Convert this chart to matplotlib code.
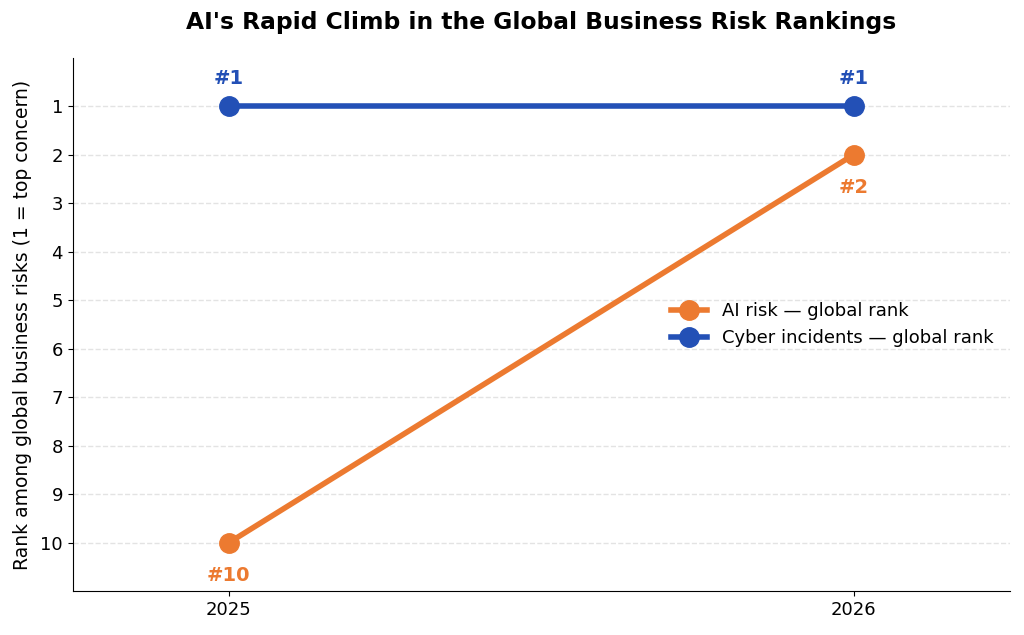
import matplotlib
matplotlib.use("Agg")
import matplotlib.pyplot as plt

# ---------------------------------------------------------------------------
# Data
# ---------------------------------------------------------------------------
years = [2025, 2026]
ai_rank = [10, 2]
cyber_rank = [1, 1]
rank_ticks = list(range(1, 11))

C_AI = "#EC7A30"
C_CYBER = "#2350B6"

fig = plt.figure(figsize=(10.24, 6.35), dpi=100)
ax = fig.add_axes([0.071, 0.069, 0.915, 0.840])

ax.plot(years, ai_rank, color=C_AI, linewidth=4, marker="o",
        markersize=14, label="AI risk — global rank", zorder=3)
ax.plot(years, cyber_rank, color=C_CYBER, linewidth=4, marker="o",
        markersize=14, label="Cyber incidents — global rank", zorder=3)

# Rank labels
for x, r in zip(years, cyber_rank):
    ax.annotate(f"#{r}", (x, r), xytext=(0, 13), textcoords="offset points",
                ha="center", va="bottom", fontsize=14, fontweight="bold",
                color=C_CYBER)
for x, r in zip(years, ai_rank):
    ax.annotate(f"#{r}", (x, r), xytext=(0, -17), textcoords="offset points",
                ha="center", va="top", fontsize=14, fontweight="bold",
                color=C_AI)

ax.set_xlim(2024.75, 2026.25)
ax.set_ylim(11, 0)
ax.set_xticks(years)
ax.set_xticklabels([str(y) for y in years])
ax.set_yticks(rank_ticks)
ax.tick_params(labelsize=13)

ax.grid(axis="y", linestyle="--", color="#DDDDDD", alpha=0.8, linewidth=1)
ax.set_axisbelow(True)
ax.spines["top"].set_visible(False)
ax.spines["right"].set_visible(False)

ax.set_ylabel("Rank among global business risks (1 = top concern)",
              fontsize=13.5, labelpad=6)
ax.set_title("AI's Rapid Climb in the Global Business Risk Rankings",
             fontsize=16.8, fontweight="bold", pad=21)

ax.legend(loc="center right", frameon=False, fontsize=13)

fig.savefig("out.png", dpi=100)
